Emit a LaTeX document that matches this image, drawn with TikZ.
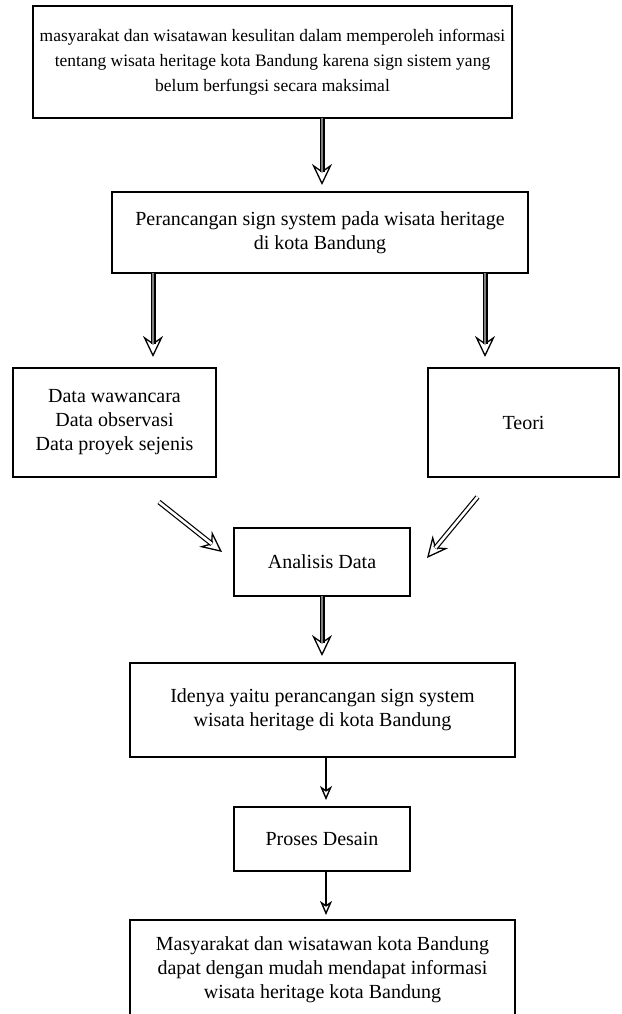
\documentclass[tikz,border=0pt]{standalone}
\usepackage{fontspec}
\setmainfont{Liberation Serif}
\usetikzlibrary{arrows.meta,calc}
\begin{document}
\begin{tikzpicture}[x=1pt,y=-1pt,
  box/.style={draw, line width=1.4pt, rectangle, inner sep=0pt, outer sep=0pt,
    align=center, font=\fontsize{20}{24}\selectfont},
  bighead/.style={line width=1.3pt, -{Stealth[open, length=21pt, width=20pt, inset=7pt]}},
  greyshaft/.style={line width=1.5pt, double=black!50, double distance=2pt},
  whiteshaft/.style={line width=1.2pt, double=white, double distance=2.6pt},
  thinarrow/.style={line width=2pt, -{Stealth[open, length=14pt, width=12pt, inset=4pt, line width=1.4pt]}}
]
\useasboundingbox (0,0) rectangle (621,1014);

\node[box, minimum width=479pt, minimum height=112pt, font=\fontsize{17.5}{25}\selectfont] (b1) at (272.5,62)
  {masyarakat dan wisatawan kesulitan dalam memperoleh informasi\\
   tentang wisata heritage kota Bandung karena sign sistem yang\\
   belum berfungsi secara maksimal};
\node[box, minimum width=416pt, minimum height=81pt] (b2) at (320,232.5)
  {Perancangan sign system pada wisata heritage\\di kota Bandung};
\node[box, minimum width=203pt, minimum height=109pt] (b3) at (114.5,422.5)
  {Data wawancara\\Data observasi\\Data proyek sejenis};
\node[box, minimum width=191pt, minimum height=109pt] (b4) at (523.5,422.5) {Teori};
\node[box, minimum width=176pt, minimum height=68pt] (b5) at (322,562) {Analisis Data};
\node[box, minimum width=385pt, minimum height=94pt] (b6) at (322.5,710)
  {Idenya yaitu perancangan sign system\\wisata heritage di kota Bandung};
\node[box, minimum width=176pt, minimum height=64pt] (b7) at (322,839) {Proses Desain};
\node[box, minimum width=385pt, minimum height=100pt] (b8) at (322.5,970)
  {Masyarakat dan wisatawan kota Bandung\\dapat dengan mudah mendapat informasi\\wisata heritage kota Bandung};

\coordinate (xl) at (153,0);
\coordinate (xr) at (485,0);
\coordinate (xm) at (326,0);
\coordinate (xt) at (322,0);

% b1 -> b2
\draw[bighead, shorten >=7pt] (b1.south -| xt) -- (b2.north -| xt);
\draw[greyshaft, shorten >=20pt] (b1.south -| xt) -- (b2.north -| xt);
% b2 -> b3
\draw[bighead, shorten >=11pt] (b2.south -| xl) -- (b3.north -| xl);
\draw[greyshaft, shorten >=24pt] (b2.south -| xl) -- (b3.north -| xl);
% b2 -> b4
\draw[bighead, shorten >=11pt] (b2.south -| xr) -- (b4.north -| xr);
\draw[greyshaft, shorten >=24pt] (b2.south -| xr) -- (b4.north -| xr);
% b3 -> b5
\draw[bighead] ($(b3.south)+(44.5,25)$) -- ($(b5.west)+(-12,-10)$);
\draw[whiteshaft, shorten >=13pt] ($(b3.south)+(44.5,25)$) -- ($(b5.west)+(-12,-10)$);
% b4 -> b5
\draw[bighead] ($(b4.south)+(-46,20)$) -- ($(b5.east)+(17,-4)$);
\draw[whiteshaft, shorten >=13pt] ($(b4.south)+(-46,20)$) -- ($(b5.east)+(17,-4)$);
% b5 -> b6
\draw[bighead, shorten >=7pt] (b5.south) -- (b5.south |- b6.north);
\draw[greyshaft, shorten >=20pt] (b5.south) -- (b5.south |- b6.north);
% b6 -> b7
\draw[thinarrow, shorten >=7pt] (b6.south -| xm) -- (b7.north -| xm);
% b7 -> b8
\draw[thinarrow, shorten >=5pt] (b7.south -| xm) -- (b8.north -| xm);
\end{tikzpicture}
\end{document}
